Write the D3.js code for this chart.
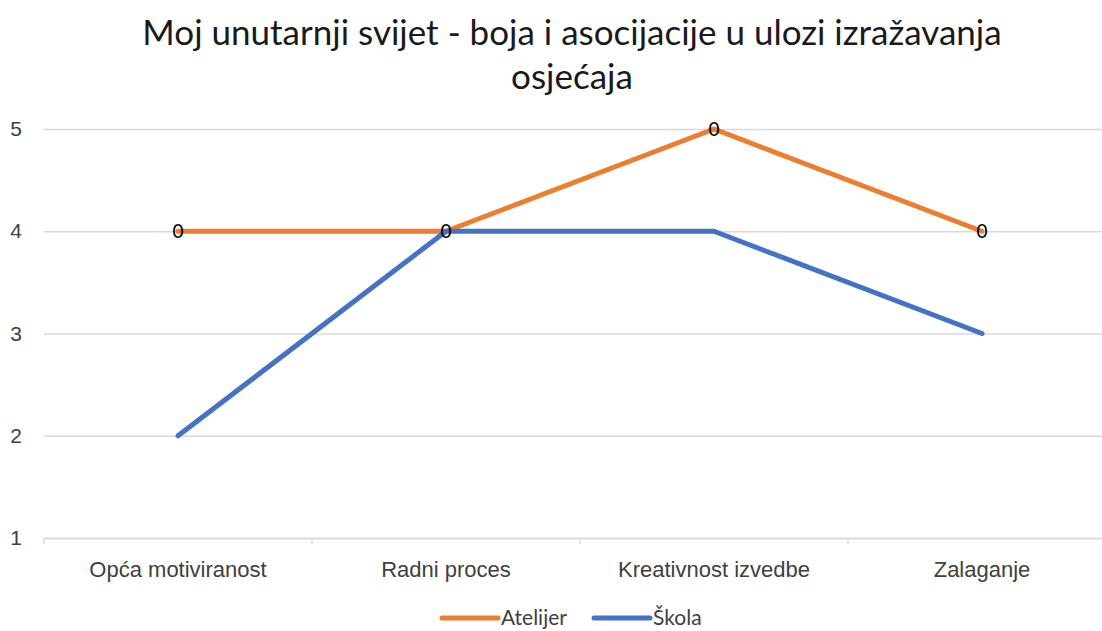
<!DOCTYPE html>
<html>
<head>
<meta charset="utf-8">
<script src="https://cdn.jsdelivr.net/npm/d3@7"></script>
<style>
  body { margin: 0; background: #fff; }
  svg { display: block; font-family: Lato, "Open Sans", sans-serif; }
</style>
</head>
<body>
<svg id="graf"></svg>
<script>
let naslov = ['Moj unutarnji svijet - boja i asocijacije u ulozi izražavanja', 'osjećaja']
let kategorije = ['Opća motiviranost', 'Radni proces', 'Kreativnost izvedbe', 'Zalaganje']
let atelijer = [4, 4, 5, 4]
let skola = [2, 4, 4, 3]
let oznakeY = [1, 2, 3, 4, 5]

let serije = [
  { ime: 'Atelijer', vrijednosti: atelijer, boja: '#ED7D31' },
  { ime: 'Škola', vrijednosti: skola, boja: '#4472C4' }
]

function graficar() {
  let width = 1102
  let height = 631
  let lijevo = 44, desno = 1116, gore = 129, dolje = 538

  let svg = d3.select('#graf')
    .attr('width', width)
    .attr('height', height)

  let x = d3.scaleBand()
    .domain(kategorije)
    .range([lijevo, desno])
  let y = d3.scaleLinear()
    .domain([1, 5])
    .range([dolje, gore])

  // naslov
  svg.append('g').selectAll('text')
    .data(naslov)
    .enter().append('text')
    .attr('x', 572)
    .attr('y', (d, i) => 45 + i * 44)
    .attr('text-anchor', 'middle')
    .style('font-size', '35px')
    .style('fill', '#1a1a1a')
    .text(d => d)

  // y os + mreza
  let osY = svg.append('g')
    .attr('transform', `translate(${lijevo},0)`)
    .call(d3.axisLeft(y).tickValues(oznakeY).tickSize(-(desno - lijevo)).tickFormat(d3.format('d')).tickPadding(22))
  osY.select('.domain').remove()
  osY.selectAll('line').attr('stroke', '#d9d9d9').attr('stroke-width', 1.3)
  osY.selectAll('text').style('font-size', '21px').style('fill', '#404040').style('font-family', 'inherit')

  // x os
  let osX = svg.append('g')
    .attr('transform', `translate(0,${dolje})`)
    .call(d3.axisBottom(x).tickSize(0).tickPadding(23))
  osX.select('.domain').attr('stroke', '#d9d9d9').attr('stroke-width', 1.3)
  osX.selectAll('text').style('font-size', '22px').style('fill', '#404040').style('font-family', 'inherit')
  let granice = kategorije.map(k => x(k)).concat([x.range()[1]])
  osX.selectAll('.granica')
    .data(granice)
    .enter().append('line')
    .attr('x1', d => d).attr('x2', d => d)
    .attr('y1', 0).attr('y2', 6)
    .attr('stroke', '#d9d9d9').attr('stroke-width', 1.3)

  let linija = d3.line()
    .x((d, i) => x(kategorije[i]) + x.bandwidth() / 2)
    .y(d => y(d))

  svg.append('g').selectAll('path')
    .data(serije)
    .enter().append('path')
    .attr('d', d => linija(d.vrijednosti))
    .attr('fill', 'none')
    .attr('stroke', d => d.boja)
    .attr('stroke-width', 5)
    .attr('stroke-linejoin', 'round')
    .attr('stroke-linecap', 'round')

  // oznake podataka (u originalu pise 0)
  svg.append('g').selectAll('text')
    .data(atelijer)
    .enter().append('text')
    .attr('x', (d, i) => x(kategorije[i]) + x.bandwidth() / 2)
    .attr('y', d => y(d) + 7)
    .attr('text-anchor', 'middle')
    .style('font-size', '19px')
    .style('fill', '#000')
    .text('0')

  // legenda
  let legenda = svg.append('g').attr('transform', `translate(0,618)`)
  let pozicije = [442, 594]
  let stavke = legenda.selectAll('g')
    .data(serije)
    .enter().append('g')
    .attr('transform', (d, i) => `translate(${pozicije[i]},0)`)
  stavke.append('line')
    .attr('x1', 0).attr('x2', 56)
    .attr('stroke', d => d.boja)
    .attr('stroke-width', 5)
    .attr('stroke-linecap', 'round')
  stavke.append('text')
    .attr('x', 59)
    .attr('y', 7)
    .style('font-size', '21px')
    .style('fill', '#404040')
    .text(d => d.ime)
}

graficar()
</script>
</body>
</html>
